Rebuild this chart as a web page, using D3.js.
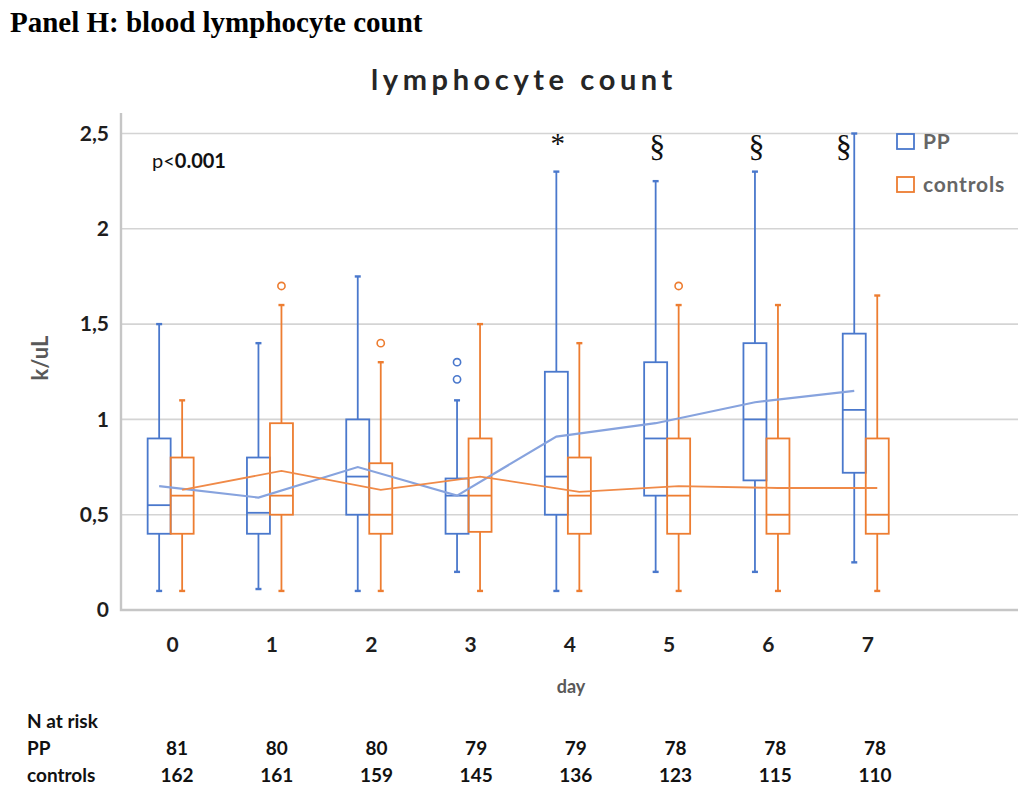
<!DOCTYPE html>
<html>
<head>
<meta charset="utf-8">
<script src="https://cdn.jsdelivr.net/npm/d3@7"></script>
<style>
  body { margin: 0; background: #fff; }
  svg { display: block; }
</style>
</head>
<body>
<div id="chart"></div>
<script>
// data -----------------------------------------------------------------------
const days = ['0', '1', '2', '3', '4', '5', '6', '7'];
const yTicks = [0, 0.5, 1, 1.5, 2, 2.5];

const ppMin      = [0.1, 0.11, 0.1, 0.2, 0.1, 0.2, 0.2, 0.25];
const ppQ1       = [0.4, 0.4, 0.5, 0.4, 0.5, 0.6, 0.68, 0.72];
const ppMedian   = [0.55, 0.51, 0.7, 0.6, 0.7, 0.9, 1.0, 1.05];
const ppQ3       = [0.9, 0.8, 1.0, 0.69, 1.25, 1.3, 1.4, 1.45];
const ppMax      = [1.5, 1.4, 1.75, 1.1, 2.3, 2.25, 2.3, 2.5];
const ppMean     = [0.65, 0.59, 0.75, 0.6, 0.91, 0.98, 1.09, 1.15];
const ppOutliers = [[], [], [], [1.3, 1.21], [], [], [], []];

const ctrlMin      = [0.1, 0.1, 0.1, 0.1, 0.1, 0.1, 0.1, 0.1];
const ctrlQ1       = [0.4, 0.5, 0.4, 0.41, 0.4, 0.4, 0.4, 0.4];
const ctrlMedian   = [0.6, 0.6, 0.5, 0.6, 0.6, 0.6, 0.5, 0.5];
const ctrlQ3       = [0.8, 0.98, 0.77, 0.9, 0.8, 0.9, 0.9, 0.9];
const ctrlMax      = [1.1, 1.6, 1.3, 1.5, 1.4, 1.6, 1.6, 1.65];
const ctrlMean     = [0.63, 0.73, 0.63, 0.7, 0.62, 0.65, 0.64, 0.64];
const ctrlOutliers = [[], [1.7], [1.4], [], [], [1.7], [], []];

const marks = [{ day: '4', sym: '*' }, { day: '5', sym: '§' }, { day: '6', sym: '§' }, { day: '7', sym: '§' }];

const nPP   = [81, 80, 80, 79, 79, 78, 78, 78];
const nCtrl = [162, 161, 159, 145, 136, 123, 115, 110];

// layout ----------------------------------------------------------------------
const width = 1020, height = 789;
const plotLeft = 121, plotRight = 1018, plotTop = 113;
const blue = '#4a78cc', orange = '#ed7d31';
const sans = 'Lato, "Open Sans", sans-serif';
const serif = '"Liberation Serif", "Times New Roman", serif';

const svg = d3.select('#chart').append('svg')
  .attr('width', width)
  .attr('height', height)
  .attr('viewBox', '0 0 ' + width + ' ' + height);

const x = d3.scaleBand().domain(days).range([plotLeft, plotLeft + 8 * 99.3]);
const y = d3.scaleLinear().domain([0, 2.5]).range([610, 133.5]);
const cx = d => x(d) + x.bandwidth() / 2;
const boxW = 23;

// titles ------------------------------------------------------------------------
svg.append('text')
  .attr('x', 10).attr('y', 32)
  .attr('font-family', serif)
  .attr('font-weight', 'bold')
  .attr('font-size', '29px')
  .text('Panel H: blood lymphocyte count');

svg.append('text')
  .attr('x', 524).attr('y', 90)
  .attr('text-anchor', 'middle')
  .attr('font-family', sans)
  .attr('font-weight', 'bold')
  .attr('font-size', '29px')
  .attr('letter-spacing', '4.6px')
  .attr('fill', '#262626')
  .text('lymphocyte count');

// grid + axes ---------------------------------------------------------------------
svg.append('g').selectAll('line')
  .data(yTicks.filter(t => t > 0))
  .enter().append('line')
  .attr('x1', plotLeft).attr('x2', plotRight)
  .attr('y1', d => y(d)).attr('y2', d => y(d))
  .attr('stroke', '#d4d4d4').attr('stroke-width', 1.6);

svg.append('path')
  .attr('d', 'M' + plotLeft + ',' + plotTop + 'V' + y(0) + 'H' + plotRight)
  .attr('fill', 'none')
  .attr('stroke', '#c6c6c6')
  .attr('stroke-width', 2.4);

const yAxis = svg.append('g')
  .attr('transform', 'translate(' + (plotLeft - 9) + ',0)')
  .call(d3.axisLeft(y).tickValues(yTicks).tickSize(0)
    .tickFormat(d => String(d).replace('.', ',')));
yAxis.select('.domain').remove();
yAxis.selectAll('text')
  .attr('font-family', sans).attr('font-weight', 'bold')
  .attr('font-size', '21px').attr('fill', '#1e1e1e');

const xAxis = svg.append('g')
  .attr('transform', 'translate(2,' + (y(0) + 24) + ')')
  .call(d3.axisBottom(x).tickSize(0));
xAxis.select('.domain').remove();
xAxis.selectAll('text')
  .attr('font-family', sans).attr('font-weight', 'bold')
  .attr('font-size', '21px').attr('fill', '#1e1e1e');

svg.append('text')
  .attr('x', 571).attr('y', 693)
  .attr('text-anchor', 'middle')
  .attr('font-family', sans).attr('font-weight', 'bold')
  .attr('font-size', '18px').attr('fill', '#595959')
  .text('day');

svg.append('text')
  .attr('transform', 'translate(48,358) rotate(-90)')
  .attr('text-anchor', 'middle')
  .attr('font-family', sans).attr('font-weight', 'bold')
  .attr('font-size', '22px').attr('fill', '#595959')
  .text('k/uL');

// p value -------------------------------------------------------------------------
const pText = svg.append('text')
  .attr('x', 152).attr('y', 168)
  .attr('font-family', sans).attr('font-size', '20px').attr('fill', '#111');
pText.append('tspan').text('p<');
pText.append('tspan').attr('font-weight', 'bold').text('0.001');

// boxes --------------------------------------------------------------------------
const series = [
  { name: 'PP', color: blue, off: -boxW / 2, min: ppMin, q1: ppQ1, med: ppMedian, q3: ppQ3, max: ppMax, mean: ppMean, out: ppOutliers, lineColor: '#87a3de' },
  { name: 'controls', color: orange, off: boxW / 2, min: ctrlMin, q1: ctrlQ1, med: ctrlMedian, q3: ctrlQ3, max: ctrlMax, mean: ctrlMean, out: ctrlOutliers, lineColor: '#f08a48' }
];

series.forEach(s => {
  const rows = days.map((d, i) => ({ day: d, min: s.min[i], q1: s.q1[i], med: s.med[i], q3: s.q3[i], max: s.max[i], mean: s.mean[i], out: s.out[i] }));
  const g = svg.append('g').attr('stroke', s.color).attr('fill', 'none').attr('stroke-width', 1.8);
  const bx = g.selectAll('.box').data(rows).enter().append('g')
    .attr('transform', d => 'translate(' + (cx(d.day) + s.off) + ',0)');
  // whiskers
  bx.append('line').attr('x1', 0).attr('x2', 0).attr('y1', d => y(d.q3)).attr('y2', d => y(d.max));
  bx.append('line').attr('x1', 0).attr('x2', 0).attr('y1', d => y(d.q1)).attr('y2', d => y(d.min));
  bx.append('line').attr('x1', -3).attr('x2', 3).attr('y1', d => y(d.max)).attr('y2', d => y(d.max)).attr('stroke-width', 2.4);
  bx.append('line').attr('x1', -3).attr('x2', 3).attr('y1', d => y(d.min)).attr('y2', d => y(d.min)).attr('stroke-width', 2.4);
  // box
  bx.append('rect')
    .attr('x', -boxW / 2).attr('width', boxW)
    .attr('y', d => y(d.q3)).attr('height', d => y(d.q1) - y(d.q3));
  bx.append('line').attr('x1', -boxW / 2).attr('x2', boxW / 2)
    .attr('y1', d => y(d.med)).attr('y2', d => y(d.med));
  // outliers
  bx.selectAll('circle').data(d => d.out).enter().append('circle')
    .attr('cx', 0).attr('cy', d => y(d)).attr('r', 3.6).attr('stroke-width', 1.6);
});

// mean lines --------------------------------------------------------------------
series.forEach(s => {
  svg.append('path')
    .datum(days.map((d, i) => [cx(d) + s.off, y(s.mean[i])]))
    .attr('fill', 'none')
    .attr('stroke', s.lineColor)
    .attr('stroke-width', s.name === 'PP' ? 2.2 : 1.8)
    .attr('d', d3.line());
});

// significance marks (the last one sits left of the whisker that reaches the top) ---
svg.append('g').selectAll('text')
  .data(marks).enter().append('text')
  .attr('x', (d, i) => cx(d.day) - 10 - (i === marks.length - 1 ? 12 : 0))
  .attr('y', d => d.sym === '*' ? 153 : 157)
  .attr('text-anchor', 'middle')
  .attr('font-family', serif)
  .attr('font-size', d => d.sym === '*' ? '29px' : '32px')
  .attr('fill', '#111')
  .text(d => d.sym);

// legend -----------------------------------------------------------------------------
const legend = svg.append('g').selectAll('g')
  .data(series).enter().append('g')
  .attr('transform', (d, i) => 'translate(897,' + (134 + i * 43) + ')');
legend.append('rect')
  .attr('width', 17).attr('height', 15)
  .attr('fill', 'none').attr('stroke', d => d.color).attr('stroke-width', 1.8);
legend.append('text')
  .attr('x', 26).attr('y', 15)
  .attr('font-family', sans).attr('font-weight', 'bold')
  .attr('font-size', '21px').attr('letter-spacing', '0.8px').attr('fill', '#666')
  .text(d => d.name);

// N at risk table ---------------------------------------------------------------------
const tx = d3.scalePoint().domain(days).range([177, 875]);
const tableText = (txt, xx, yy, anchor) => svg.append('text')
  .attr('x', xx).attr('y', yy)
  .attr('text-anchor', anchor || 'start')
  .attr('font-family', sans).attr('font-size', '19px').attr('font-weight', 'bold')
  .attr('fill', '#111')
  .text(txt);
tableText('N at risk', 27, 728);
tableText('PP', 27, 755);
tableText('controls', 27, 782);
nPP.forEach((n, i) => tableText(n, tx(days[i]), 755, 'middle'));
nCtrl.forEach((n, i) => tableText(n, tx(days[i]), 782, 'middle'));
</script>
</body>
</html>
